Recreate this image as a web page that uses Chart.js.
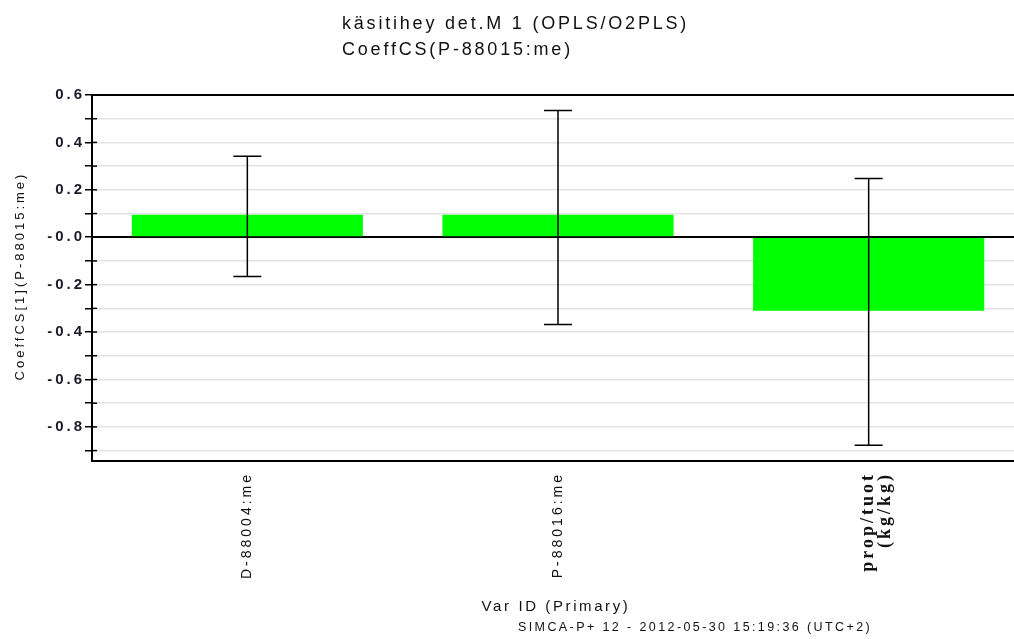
<!DOCTYPE html>
<html>
<head>
<meta charset="utf-8">
<script src="https://cdn.jsdelivr.net/npm/chart.js@4"></script>
<style>
  html, body { margin: 0; padding: 0; background: #fff; overflow: hidden; }
  #wrap { position: relative; width: 1024px; height: 639px; }
</style>
</head>
<body>
<div id="wrap"><canvas id="coeffChart" width="1024" height="639"></canvas></div>
<script>
// values
const varIds = ['D-88004:me', 'P-88016:me', ['prop/tuot', '(kg/kg)']];
const coeffValues = [0.095, 0.095, -0.31];
const errHigh = [0.342, 0.535, 0.248];
const errLow = [-0.166, -0.368, -0.878];
const yTickValues = [0.6, 0.5, 0.4, 0.3, 0.2, 0.1, 0, -0.1, -0.2, -0.3, -0.4, -0.5, -0.6, -0.7, -0.8, -0.9];
const yTickLabels = ['0.6', '', '0.4', '', '0.2', '', '-0.0', '', '-0.2', '', '-0.4', '', '-0.6', '', '-0.8', ''];

const titleLines = ['käsitihey det.M 1 (OPLS/O2PLS)', 'CoeffCS(P-88015:me)'];
const yTitle = 'CoeffCS[1](P-88015:me)';
const xTitle = 'Var ID (Primary)';
const footer = 'SIMCA-P+ 12 - 2012-05-30 15:19:36 (UTC+2)';

// SIMCA draws its text loosely spaced
const wideText = {
  id: 'wideText',
  beforeDraw(chart) {
    chart.ctx.letterSpacing = '3px';
  }
};

// error bars, top border, inner tick marks, zero line, texts
const simcaExtras = {
  id: 'simcaExtras',
  afterDatasetsDraw(chart) {
    const ctx = chart.ctx;
    const x = chart.scales.x;
    const y = chart.scales.y;
    const area = chart.chartArea;
    ctx.save();

    // zero line over the bars
    ctx.strokeStyle = '#000';
    ctx.lineWidth = 1.5;
    ctx.beginPath();
    ctx.moveTo(area.left, y.getPixelForValue(0));
    ctx.lineTo(area.right, y.getPixelForValue(0));
    ctx.stroke();

    // error bars
    ctx.lineWidth = 1.5;
    for (let i = 0; i < coeffValues.length; i++) {
      const cx = x.getPixelForValue(i);
      const yh = y.getPixelForValue(errHigh[i]);
      const yl = y.getPixelForValue(errLow[i]);
      ctx.beginPath();
      ctx.moveTo(cx, yh);
      ctx.lineTo(cx, yl);
      ctx.moveTo(cx - 14, yh);
      ctx.lineTo(cx + 14, yh);
      ctx.moveTo(cx - 14, yl);
      ctx.lineTo(cx + 14, yl);
      ctx.stroke();
    }

    // inner part of the y tick marks
    ctx.lineWidth = 1.5;
    yTickValues.forEach(v => {
      const py = y.getPixelForValue(v);
      ctx.beginPath();
      ctx.moveTo(area.left, py);
      ctx.lineTo(area.left + 5, py);
      ctx.stroke();
    });

    // top border
    ctx.lineWidth = 2;
    ctx.beginPath();
    ctx.moveTo(area.left - 1, area.top);
    ctx.lineTo(area.right, area.top);
    ctx.stroke();

    // texts
    ctx.fillStyle = '#111';
    ctx.textBaseline = 'middle';
    ctx.textAlign = 'left';
    ctx.letterSpacing = '2.8px';
    ctx.font = '18px "Liberation Sans", Arial, sans-serif';
    ctx.fillText(titleLines[0], 342, 24);
    ctx.fillText(titleLines[1], 342, 50);

    ctx.letterSpacing = '2.6px';
    ctx.font = '15px "Liberation Sans", Arial, sans-serif';
    ctx.textAlign = 'center';
    ctx.fillText(xTitle, 556, 607);

    ctx.letterSpacing = '2.4px';
    ctx.font = '12.5px "Liberation Sans", Arial, sans-serif';
    ctx.textAlign = 'left';
    ctx.fillText(footer, 518, 628);

    ctx.translate(20, 276);
    ctx.rotate(-Math.PI / 2);
    ctx.textAlign = 'center';
    ctx.letterSpacing = '3px';
    ctx.font = '13px "Liberation Sans", Arial, sans-serif';
    ctx.fillText(yTitle, 0, 0);
    ctx.restore();
  }
};

const ctx = document.getElementById('coeffChart').getContext('2d');
new Chart(ctx, {
  type: 'bar',
  data: {
    labels: varIds,
    datasets: [
      {
        label: 'CoeffCS',
        data: coeffValues,
        backgroundColor: '#00ff00',
        borderWidth: 0,
        barPercentage: 0.744,
        categoryPercentage: 1,
      },
    ],
  },
  options: {
    responsive: false,
    animation: false,
    devicePixelRatio: 1,
    layout: { padding: { top: 95, left: 0, right: 0, bottom: 0 } },
    scales: {
      x: {
        grid: { display: false },
        border: { display: true, color: '#000', width: 2 },
        ticks: {
          autoSkip: false,
          minRotation: 90,
          maxRotation: 90,
          padding: 3,
          color: '#111',
          font: (c) => c.index === 2
            ? { family: '"Liberation Serif", "Times New Roman", serif', size: 18, weight: 'bold', lineHeight: 0.9 }
            : { family: '"Liberation Sans", Arial, sans-serif', size: 14 },
        },
        afterFit: (scale) => { scale.height = 639 - 461; },
      },
      y: {
        min: -0.944,
        max: 0.6,
        afterBuildTicks: (scale) => { scale.ticks = yTickValues.map(v => ({ value: v })); },
        afterFit: (scale) => { scale.width = 92; },
        grid: {
          color: (c) => c.tick && c.tick.value === 0 ? '#000' : '#e3e3e3',
          lineWidth: 1.5,
          tickColor: '#000',
          tickLength: 7,
        },
        border: { display: true, color: '#000', width: 2 },
        ticks: {
          padding: 0,
          color: '#1a1a2a',
          font: { family: '"Liberation Sans", Arial, sans-serif', size: 15, weight: 'bold' },
          callback: (v, i) => yTickLabels[i],
        },
      },
    },
    plugins: {
      legend: { display: false },
      tooltip: { enabled: false },
    },
  },
  plugins: [wideText, simcaExtras],
});
</script>
</body>
</html>
